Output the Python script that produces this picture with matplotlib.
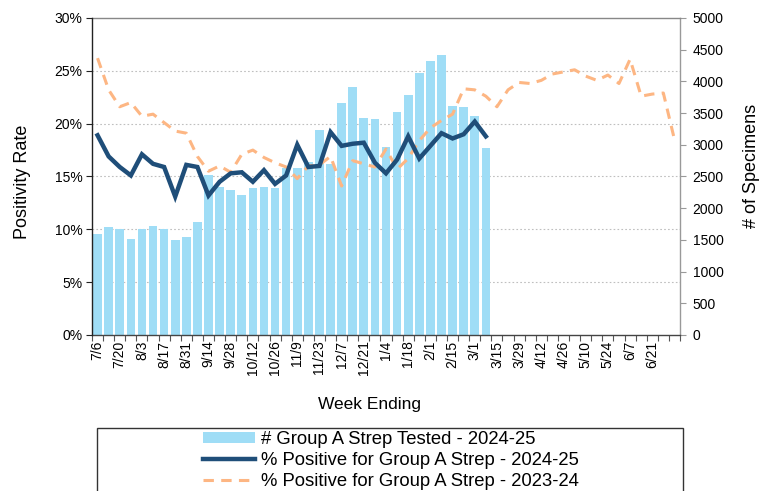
import matplotlib
matplotlib.use('Agg')
import matplotlib.pyplot as plt
from matplotlib.patches import Rectangle, Patch
from matplotlib.lines import Line2D
from matplotlib.ticker import FuncFormatter

plt.rcParams['font.family'] = ['Liberation Sans', 'DejaVu Sans']

weeks = ['7/6', '7/13', '7/20', '7/27', '8/3', '8/10', '8/17', '8/24', '8/31',
         '9/7', '9/14', '9/21', '9/28', '10/5', '10/12', '10/19', '10/26',
         '11/2', '11/9', '11/16', '11/23', '11/30', '12/7', '12/14', '12/21', '12/28',
         '1/4', '1/11', '1/18', '1/25', '2/1', '2/8', '2/15', '2/22',
         '3/1', '3/8', '3/15', '3/22', '3/29', '4/5', '4/12', '4/19', '4/26',
         '5/3', '5/10', '5/17', '5/24', '5/31', '6/7', '6/14', '6/21', '6/28', '7/5']

tested_2425 = [1590, 1700, 1665, 1515, 1665, 1715, 1665, 1500, 1545, 1775,
               2525, 2330, 2280, 2210, 2315, 2330, 2315, 2630, 2630, 2735,
               3235, 2695, 3665, 3905, 3420, 3400, 2970, 3520, 3785, 4125,
               4325, 4415, 3615, 3600, 3455, 2945]

pos_2425 = [18.9, 16.9, 15.9, 15.1, 17.1, 16.2, 15.9, 13.1, 16.1, 15.9,
            13.2, 14.5, 15.3, 15.4, 14.5, 15.6, 14.3, 15.1, 18.0, 15.9,
            16.0, 19.2, 17.9, 18.1, 18.2, 16.3, 15.3, 16.6, 18.8, 16.7,
            17.9, 19.1, 18.6, 19.0, 20.2, 18.8]

pos_2324 = [26.2, 23.2, 21.6, 22.0, 20.7, 20.9, 20.1, 19.3, 19.1, 16.9,
            15.5, 16.0, 15.4, 17.1, 17.5, 16.8, 16.3, 15.9, 14.8, 16.0,
            16.1, 16.9, 14.1, 16.5, 16.2, 15.9, 17.6, 15.7, 16.7, 18.4,
            19.6, 20.3, 20.9, 23.3, 23.2, 22.6, 21.6, 23.2, 23.9, 23.8,
            24.1, 24.7, 24.9, 25.1, 24.5, 24.1, 24.6, 23.8, 26.1, 22.6,
            22.8, 22.9, 18.5]

labels = ['# Group A Strep Tested - 2024-25',
          '% Positive for Group A Strep - 2024-25',
          '% Positive for Group A Strep - 2023-24']

BAR_C = '#9FDDF6'
SOLID_C = '#1F4E79'
DASH_C = '#FDB683'

W, H = 767, 491
fig = plt.figure(figsize=(W / 100, H / 100), dpi=100)
ax = fig.add_axes([92 / W, (H - 335) / H, 588 / W, 317 / H])
ax2 = ax.twinx()

n = len(weeks)
ax.set_xlim(-0.5, n - 0.5)
ax.set_ylim(0, 5000)
ax.bar(range(len(tested_2425)), tested_2425, width=0.78, color=BAR_C, zorder=2)
for p in [5, 10, 15, 20, 25]:
    ax.axhline(5000 * p / 30, color='#BFBFBF', lw=0.8, ls=(0, (1.5, 2)), zorder=1)

ax.yaxis.tick_right()
ax.yaxis.set_label_position('right')
ax.set_yticks(range(0, 5001, 500))
ax.tick_params(axis='y', direction='out', length=4, color='#999999', labelsize=10, pad=5)

ax.set_xticks([i - 0.5 for i in range(n + 1)])
ax.set_xticklabels([])
ax.tick_params(axis='x', which='major', direction='out', length=4, color='#555555')
ax.set_xticks(list(range(0, 51, 2)), minor=True)
ax.set_xticklabels([weeks[i] for i in range(0, 51, 2)], minor=True, rotation=90, fontsize=10)
ax.tick_params(axis='x', which='minor', length=0, pad=4)

ax2.yaxis.tick_left()
ax2.yaxis.set_label_position('left')
ax2.set_ylim(0, 30)
ax2.set_yticks(range(0, 31, 5))
ax2.yaxis.set_major_formatter(FuncFormatter(lambda v, _: f'{int(v)}%'))
ax2.tick_params(axis='y', direction='out', length=4, color='#222222', labelsize=10, pad=3)

ax2.plot(range(len(pos_2324)), pos_2324, color=DASH_C, lw=2.2, dashes=(3.4, 2.4), zorder=3)
ax2.plot(range(len(pos_2425)), pos_2425, color=SOLID_C, lw=3.2, zorder=4,
         solid_joinstyle='miter')

for a in (ax, ax2):
    for s in a.spines.values():
        s.set_visible(False)
ax.spines['top'].set_visible(True)
ax.spines['top'].set_color('#888888')
ax.spines['right'].set_visible(True)
ax.spines['right'].set_color('#999999')
ax.spines['bottom'].set_visible(True)
ax.spines['bottom'].set_color('#444444')
ax2.spines['left'].set_visible(True)
ax2.spines['left'].set_color('#222222')
for s in ('top', 'right', 'bottom', 'left'):
    ax.spines[s].set_linewidth(1.0)
    ax2.spines[s].set_linewidth(1.0)

fig.text(22.5 / W, 1 - 181.5 / H, 'Positivity Rate', rotation=90, ha='center', va='center', fontsize=13)
fig.text(752 / W, 1 - 166 / H, '# of Specimens', rotation=90, ha='center', va='center', fontsize=13)
fig.text(370 / W, 1 - 405 / H, 'Week Ending', ha='center', va='center', fontsize=12.5)

fig.add_artist(Rectangle((97 / W, -0.1), (683 - 97) / W, (H - 428) / H + 0.1,
                         transform=fig.transFigure, fill=False, edgecolor='#333333', lw=1.0))
handles = [Patch(facecolor=BAR_C, edgecolor='none'),
           Line2D([], [], color=SOLID_C, lw=3.2),
           Line2D([], [], color=DASH_C, lw=2.2, dashes=(3.4, 2.4))]
fig.legend(handles, labels, loc='upper center', bbox_to_anchor=(391 / W, 1 - 431 / H),
           frameon=False, fontsize=13.3, handlelength=2.8, handleheight=0.55,
           labelspacing=0.22, handletextpad=0.3, borderpad=0, borderaxespad=0)

fig.savefig('out.png', dpi=100)
